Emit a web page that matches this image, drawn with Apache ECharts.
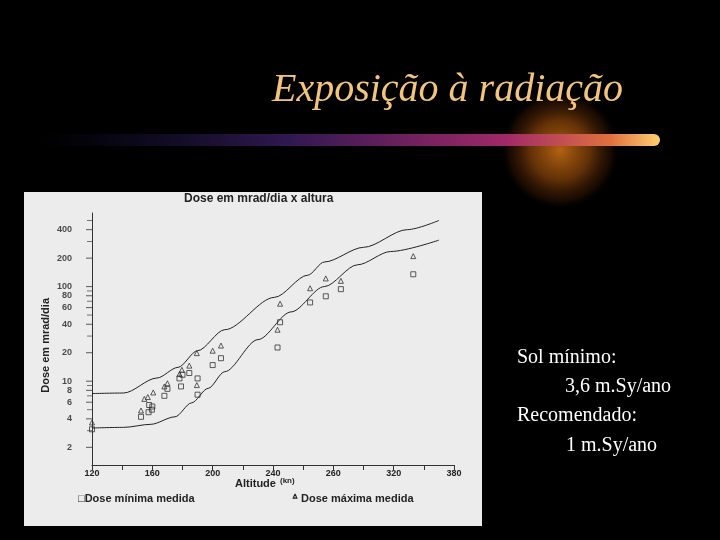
<!DOCTYPE html><html><head><meta charset="utf-8">
<script src="https://cdn.jsdelivr.net/npm/echarts@6/dist/echarts.min.js"></script>
<style>html,body{margin:0;background:#000}#c{width:720px;height:540px}</style></head><body><div id="c"></div>
<script>
const xTickLabels=['120','160','200','240','260','320','380'];
const yTickValues=[2,4,6,8,10,20,40,60,80,100,200,400];
const yMinorTicks=[3,5,7,9,30,50,70,90,300,500];
const maxModel=[[120,7.4],[141,7.5],[163,10.8],[177,14],[190,21],[208,35],[241,77],[263,132],[274,182],[300,260],[329,400],[350,500]];
const minModel=[[120,3.2],[141,3.25],[159,3.5],[175,4.2],[186,5.9],[197,8.4],[208,12.6],[230,27.5],[252,54],[274,100],[296,170],[318,235],[350,310]];
const minMeasured=[[120,3.1],[152.5,4.2],[157.5,4.7],[157.9,5.6],[159.7,5.0],[160,5.4],[168,7.0],[170,8.3],[179,8.8],[178,10.7],[180,11.7],[184.5,12.2],[190,10.7],[190,7.2],[200,14.8],[205.5,17.5],[243,22.7],[244.7,42],[264.6,68],[275,79],[285,94],[333,135]];
const maxMeasured=[[120,3.66],[152.5,4.9],[154.7,6.5],[157,6.8],[160.6,7.6],[168,8.8],[170,9.5],[178,11.9],[179.6,13.2],[184.5,14.6],[189.5,19.8],[189.5,9.1],[200,21],[205.5,23.8],[243,35],[244.7,66],[264.6,96],[275,122],[285,115],[333,210]];
const L=v=>Math.log10(v);
const tr=a=>a.map(p=>[p[0],L(p[1])]);
const F='"Liberation Sans",Arial,sans-serif';
const chart=echarts.init(document.getElementById('c'));
chart.setOption({
 backgroundColor:'#000',animation:false,
 graphic:[
  {type:'ellipse',shape:{cx:560,cy:150,rx:140,ry:60},style:{fill:{type:'radial',x:0.5,y:0.5,r:0.5,colorStops:[{offset:0,color:'rgba(200,110,20,0.9)'},{offset:0.5,color:'rgba(140,70,10,0.7)'},{offset:0.85,color:'rgba(70,30,5,0.35)'},{offset:1,color:'rgba(0,0,0,0)'}]}},z:-1},
  {type:'rect',shape:{x:40,y:134,width:620,height:12,r:6},style:{fill:{type:'linear',x:0,y:0,x2:1,y2:0,colorStops:[{offset:0,color:'rgba(20,20,60,0)'},{offset:0.4,color:'#301850'},{offset:0.75,color:'#a02868'},{offset:0.92,color:'#e07040'},{offset:1,color:'#ffd070'}]}}},
  {type:'text',left:272,top:70,style:{text:'Exposição à radiação',font:'italic 40px "Liberation Serif",serif',fill:'#f2c47c'}},
  {type:'rect',shape:{x:24,y:192,width:458,height:334},style:{fill:'#ececec'},z:-2},
  {type:'text',left:184,top:193,style:{text:'Dose em mrad/dia x altura',font:'bold 12px '+F,fill:'#222'}},
  {type:'text',left:235,top:478,style:{text:'Altitude',font:'bold 11px '+F,fill:'#222'}},
  {type:'text',left:280,top:477,style:{text:'(kn)',font:'bold 8px '+F,fill:'#222'}},
  {type:'text',left:40,top:298,rotation:Math.PI/2,style:{text:'Dose em mrad/dia',font:'bold 11px '+F,fill:'#222'}},
  {type:'text',left:78,top:493,style:{text:'□Dose mínima medida',font:'bold 11px '+F,fill:'#222'}},
  {type:'text',left:292,top:493,style:{text:'ᐞ Dose máxima medida',font:'bold 11px '+F,fill:'#222'}},
  {type:'text',left:517,top:348,style:{text:'Sol mínimo:',font:'20px "Liberation Serif",serif',fill:'#fff'}},
  {type:'text',left:565,top:377,style:{text:'3,6 m.Sy/ano',font:'20px "Liberation Serif",serif',fill:'#fff'}},
  {type:'text',left:517,top:406,style:{text:'Recomendado:',font:'20px "Liberation Serif",serif',fill:'#fff'}},
  {type:'text',left:566,top:436,style:{text:'1 m.Sy/ano',font:'20px "Liberation Serif",serif',fill:'#fff'}}
 ],
 grid:{left:92,right:266,top:213,bottom:75},
 xAxis:{type:'value',min:120,max:360,interval:20,
  axisLine:{lineStyle:{color:'#333'}},axisTick:{lineStyle:{color:'#333'},length:5},splitLine:{show:false},
  axisLabel:{color:'#222',fontFamily:F,fontWeight:'bold',fontSize:9,margin:4,formatter:(v)=>{const i=(v-120)/40;return Number.isInteger(i)?xTickLabels[i]:'';}}},
 yAxis:{type:'value',min:L(1.3),max:L(600),axisLabel:{show:false},axisTick:{show:false},splitLine:{show:false},axisLine:{show:true,lineStyle:{color:'#333'}}},
 series:[
  {type:'scatter',data:yTickValues.map(v=>[120,L(v),v]),symbol:'rect',symbolSize:[6,1],symbolOffset:[-3,0],itemStyle:{color:'#333'},silent:true,
   label:{show:true,position:'left',distance:14,formatter:p=>String(p.data[2]),color:'#222',fontFamily:F,fontWeight:'bold',fontSize:9}},
  {type:'scatter',data:yMinorTicks.map(v=>[120,L(v)]),symbol:'rect',symbolSize:[5,1],symbolOffset:[-2.5,0],itemStyle:{color:'#555'},silent:true},
  {type:'line',data:tr(maxModel),smooth:0.3,smoothMonotone:'x',showSymbol:false,lineStyle:{color:'#222',width:1}},
  {type:'line',data:tr(minModel),smooth:0.3,smoothMonotone:'x',showSymbol:false,lineStyle:{color:'#222',width:1}},
  {type:'scatter',data:tr(minMeasured),symbol:'rect',symbolSize:5,itemStyle:{color:'transparent',borderColor:'#333',borderWidth:1}},
  {type:'scatter',data:tr(maxMeasured),symbol:'triangle',symbolSize:5,itemStyle:{color:'transparent',borderColor:'#333',borderWidth:1}}
 ]
});
</script></body></html>
